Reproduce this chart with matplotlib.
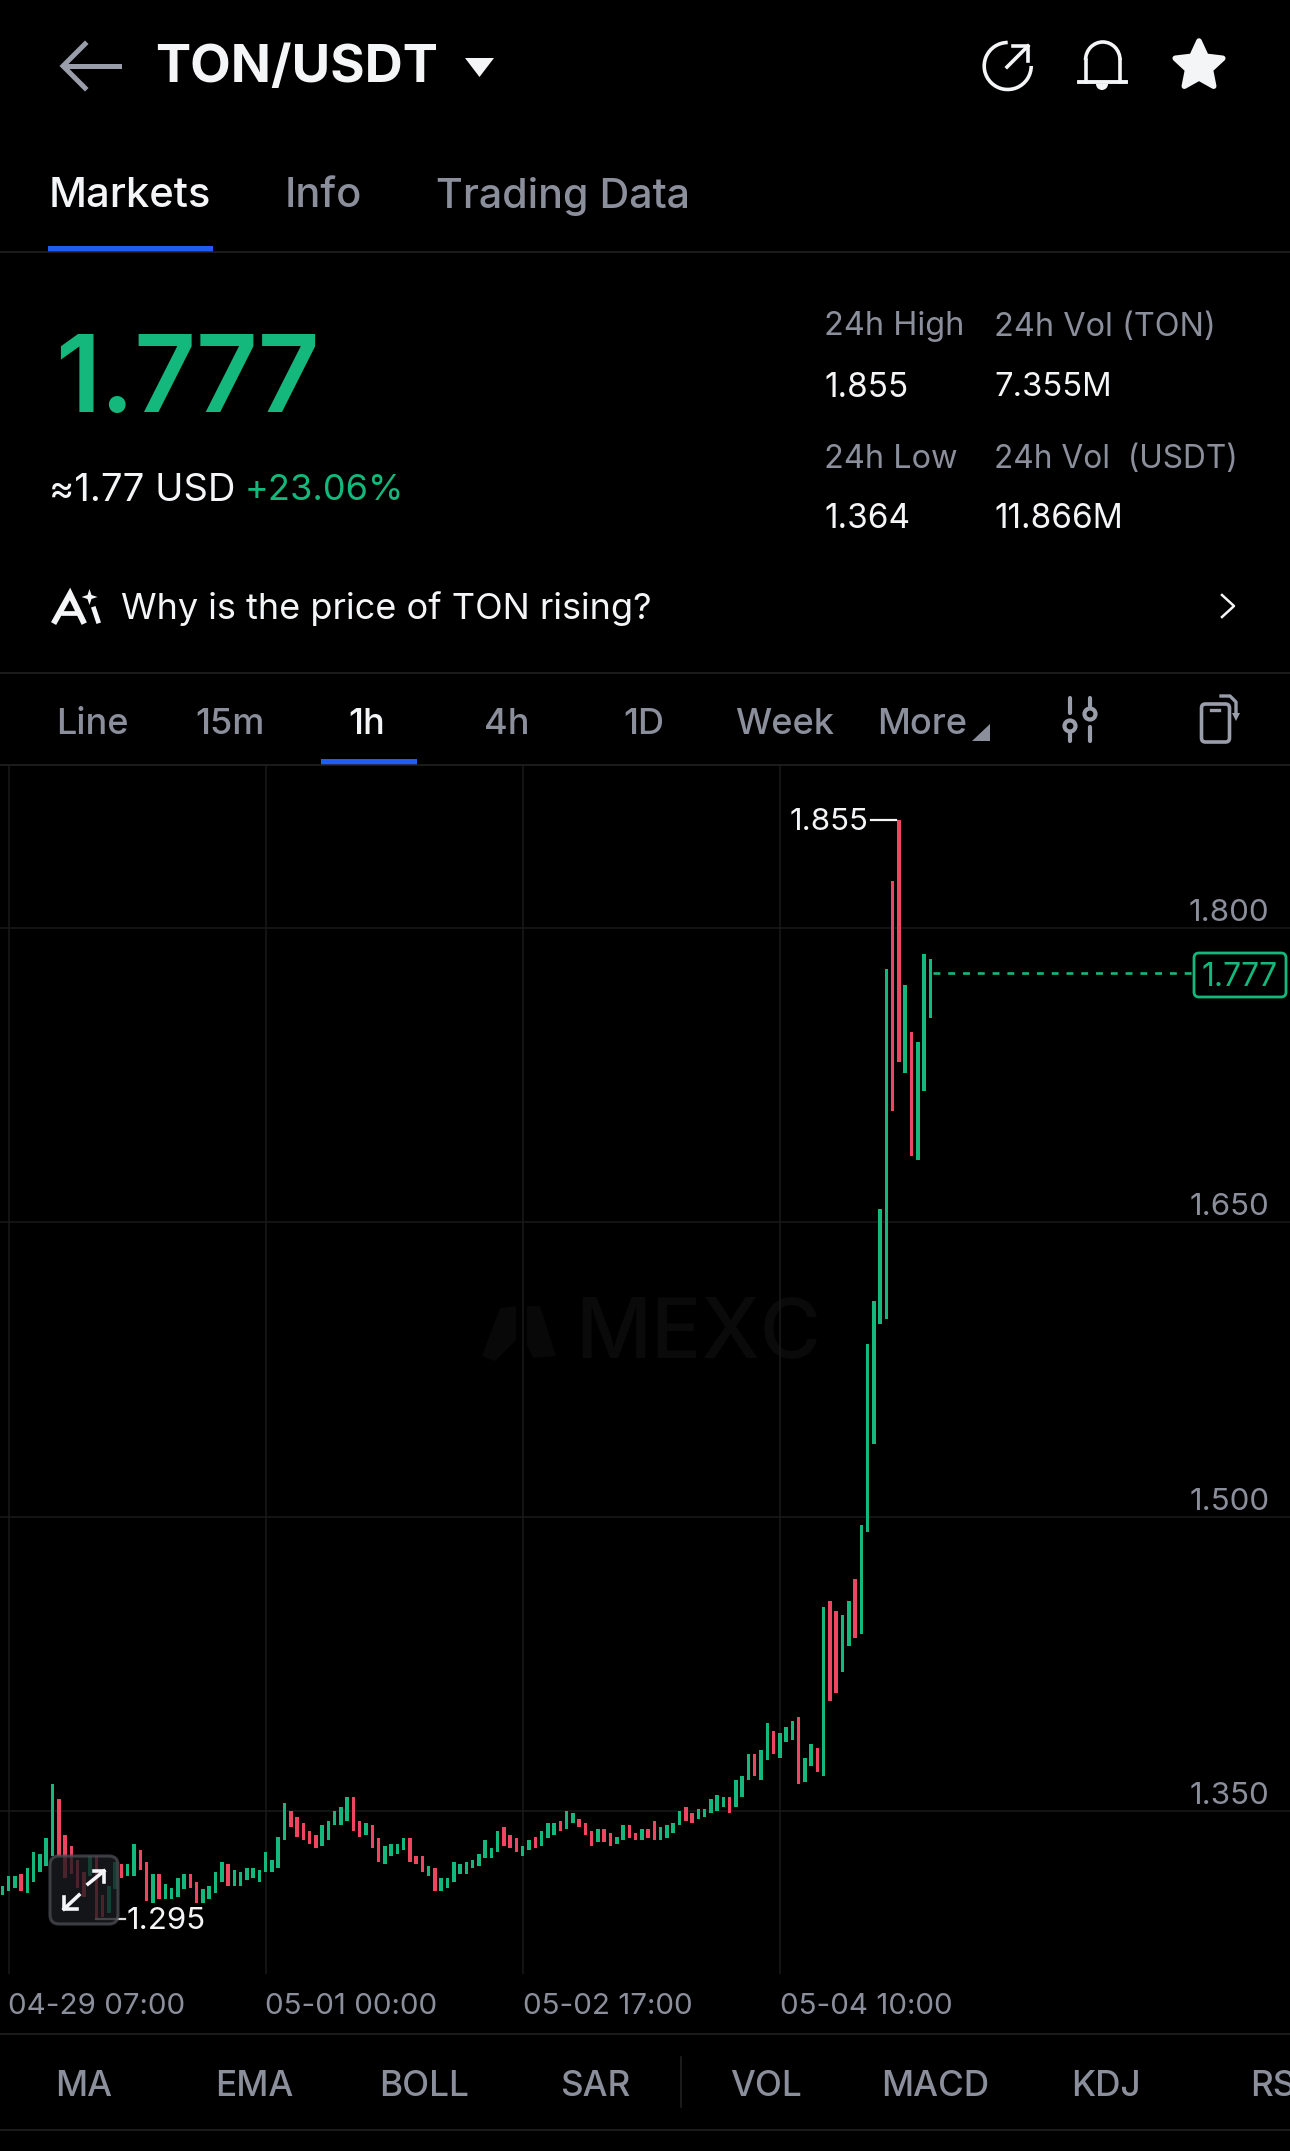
import matplotlib
matplotlib.use("Agg")
import matplotlib.pyplot as plt
import numpy as np
from matplotlib.patches import Arc, Circle, FancyBboxPatch, Polygon, Rectangle, Wedge

plt.rcParams["font.family"] = ["Inter", "DejaVu Sans"]

# one hourly candle per entry
highs = [
    1.312, 1.317, 1.317, 1.318, 1.321, 1.329, 1.328, 1.336, 1.364, 1.356,
    1.338, 1.332, 1.325, 1.319, 1.327, 1.327, 1.307, 1.312, 1.324, 1.323,
    1.323, 1.333, 1.330, 1.324, 1.318, 1.318, 1.313, 1.311, 1.316, 1.318,
    1.318, 1.314, 1.310, 1.312, 1.319, 1.324, 1.323, 1.320, 1.319, 1.321,
    1.321, 1.320, 1.329, 1.325, 1.337, 1.354, 1.350, 1.347, 1.344, 1.340,
    1.338, 1.343, 1.345, 1.350, 1.352, 1.357, 1.357, 1.345, 1.344, 1.343,
    1.336, 1.332, 1.333, 1.333, 1.336, 1.336, 1.327, 1.327, 1.322, 1.321,
    1.316, 1.316, 1.324, 1.323, 1.324, 1.325, 1.328, 1.335, 1.331, 1.340,
    1.342, 1.338, 1.336, 1.332, 1.335, 1.337, 1.340, 1.344, 1.344, 1.345,
    1.350, 1.349, 1.346, 1.344, 1.340, 1.341, 1.341, 1.339, 1.337, 1.343,
    1.343, 1.339, 1.341, 1.341, 1.345, 1.342, 1.343, 1.344, 1.350, 1.352,
    1.349, 1.351, 1.351, 1.356, 1.358, 1.357, 1.357, 1.366, 1.368, 1.379,
    1.379, 1.381, 1.395, 1.391, 1.390, 1.393, 1.396, 1.398, 1.377, 1.384,
    1.382, 1.454, 1.457, 1.452, 1.450, 1.457, 1.468, 1.496, 1.588, 1.610,
    1.657, 1.779, 1.824, 1.855, 1.771, 1.747, 1.742, 1.787, 1.784,
]
lows = [
    1.307, 1.309, 1.311, 1.309, 1.308, 1.314, 1.319, 1.322, 1.327, 1.327,
    1.316, 1.318, 1.311, 1.306, 1.317, 1.295, 1.296, 1.298, 1.310, 1.316,
    1.317, 1.317, 1.320, 1.304, 1.303, 1.305, 1.305, 1.305, 1.306, 1.310,
    1.311, 1.303, 1.303, 1.305, 1.308, 1.314, 1.312, 1.312, 1.312, 1.315,
    1.316, 1.314, 1.319, 1.319, 1.321, 1.335, 1.342, 1.337, 1.335, 1.333,
    1.331, 1.332, 1.335, 1.343, 1.343, 1.345, 1.340, 1.337, 1.338, 1.331,
    1.324, 1.323, 1.327, 1.328, 1.330, 1.324, 1.323, 1.319, 1.317, 1.309,
    1.309, 1.311, 1.314, 1.318, 1.318, 1.321, 1.322, 1.326, 1.326, 1.329,
    1.332, 1.331, 1.329, 1.327, 1.330, 1.331, 1.332, 1.336, 1.338, 1.340,
    1.341, 1.344, 1.342, 1.338, 1.332, 1.334, 1.334, 1.332, 1.333, 1.335,
    1.336, 1.335, 1.335, 1.336, 1.335, 1.335, 1.336, 1.339, 1.343, 1.345,
    1.344, 1.346, 1.347, 1.349, 1.350, 1.352, 1.349, 1.352, 1.357, 1.366,
    1.368, 1.366, 1.376, 1.379, 1.377, 1.385, 1.386, 1.364, 1.365, 1.373,
    1.370, 1.368, 1.406, 1.410, 1.421, 1.434, 1.438, 1.440, 1.492, 1.537,
    1.598, 1.601, 1.707, 1.732, 1.726, 1.684, 1.682, 1.717, 1.754,
]
is_up = [
    1, 1, 1, 0, 1, 1, 1, 1, 1, 0,
    0, 0, 0, 0, 1, 0, 0, 1, 1, 0,
    1, 1, 0, 0, 1, 0, 1, 1, 1, 1,
    0, 0, 1, 1, 1, 1, 0, 1, 1, 1,
    1, 1, 1, 1, 1, 1, 0, 0, 0, 0,
    0, 1, 1, 1, 1, 1, 0, 0, 1, 0,
    0, 1, 1, 1, 1, 0, 0, 0, 1, 0,
    1, 1, 1, 1, 1, 1, 1, 1, 1, 1,
    0, 0, 0, 1, 1, 0, 1, 1, 1, 0,
    1, 1, 0, 0, 0, 1, 0, 0, 1, 1,
    0, 0, 1, 0, 0, 1, 1, 1, 1, 0,
    0, 1, 1, 1, 1, 1, 0, 1, 1, 1,
    0, 1, 1, 0, 1, 1, 1, 0, 1, 1,
    0, 1, 0, 0, 1, 1, 0, 1, 1, 1,
    1, 1, 0, 0, 1, 0, 1, 1, 1,
]
price_ticks = [1.35, 1.5, 1.65, 1.8]
time_tick_pos = [1, 42, 83, 124]
time_tick_labels = ["04-29 07:00", "05-01 00:00", "05-02 17:00", "05-04 10:00"]
last_price = 1.777
peak_price = 1.855
low_price = 1.295

W, H = 1290, 2151
BG = "#000000"
GREEN = "#14b87c"
RED = "#ee4560"
GRAY = "#8b8f9c"
ICON = "#9a9eaa"
WHITE = "#f4f5f7"
BLUE = "#1f5ef0"
GRID = "#191919"
LINE = "#242424"

fig = plt.figure(figsize=(W / 100, H / 100), dpi=100, facecolor=BG)


def pixel_axes(z):
    a = fig.add_axes([0, 0, 1, 1], zorder=z)
    a.set_xlim(0, W)
    a.set_ylim(H, 0)
    a.axis("off")
    a.patch.set_alpha(0)
    return a


back = pixel_axes(0)
ui = pixel_axes(2)

# chart area, pixel rows 765..1974, 1962 px per 1.0 of price, 6.27 px per candle
top, bottom = 765, 1974
ax = fig.add_axes([0, (H - bottom) / H, 1, (bottom - top) / H], zorder=1)
ax.patch.set_alpha(0)
ax.set_ylim(1.35 - (bottom - 1811) / 1962, 1.35 + (1811 - top) / 1962)
ax.set_xlim(-2.33 / 6.27, (W - 2.33) / 6.27)
for s in ax.spines.values():
    s.set_visible(False)
ax.set_xticks(time_tick_pos)
ax.set_yticks(price_ticks)
ax.tick_params(length=0, labelbottom=False, labelleft=False)
ax.grid(True, color=GRID, lw=1.1)
ax.set_axisbelow(True)

x = np.arange(len(highs))
highs_a = np.array(highs)
lows_a = np.array(lows)
colors = [GREEN if u else RED for u in is_up]
ax.bar(x, highs_a - lows_a, bottom=lows_a, width=0.56, color=colors, linewidth=0)

# last price guide and extreme labels
ax.plot([x[-1] + 0.4, 1192 / 6.27], [last_price, last_price], color=GREEN, lw=1.9,
        dashes=(2.6, 3.0))
ax.plot([869 / 6.27, x[143] - 0.4], [peak_price, peak_price], color=WHITE, lw=1.6)
ax.plot([x[15], 123 / 6.27], [low_price, low_price], color="#d8d8d8", lw=1.6)
ax.text(866 / 6.27, peak_price - 2 / 1962, "1.855", color=WHITE, fontsize=22.5, ha="right", va="center")
ax.text(124 / 6.27, low_price - 2 / 1962, "1.295", color=WHITE, fontsize=22.5, ha="left", va="center")

for p in price_ticks:
    ax.text(1267 / 6.27, p + 15 / 1962, f"{p:.3f}", color=GRAY, fontsize=22.5, ha="right", va="center")

# watermark
back.add_patch(Polygon([(482, 1356), (500, 1308), (516, 1306), (516, 1340), (495, 1361)],
                       closed=True, color="#080808", lw=0))
back.add_patch(Polygon([(527, 1306), (540, 1306), (556, 1356), (533, 1358), (527, 1345)],
                       closed=True, color="#080808", lw=0))
back.text(575, 1336, "MEXC", color="#0a0a0a", fontsize=60, fontweight="medium", ha="left", va="center")

# price tag
ui.add_patch(FancyBboxPatch((1194, 953), 92, 44, boxstyle="round,pad=0,rounding_size=5",
                            fc=BG, ec=GREEN, lw=2))
ui.text(1240, 977, "1.777", color=GREEN, fontsize=23, ha="center", va="center")

# fullscreen button over the candles
ui.add_patch(FancyBboxPatch((50, 1856), 68, 68, boxstyle="round,pad=0,rounding_size=9",
                            fc="#1a1b1f", ec="#4b4c52", lw=2.2, alpha=0.78))
ui.plot([88, 104], [1884, 1871], color=WHITE, lw=2.6)
ui.plot([94, 104, 104], [1871, 1871, 1882], color=WHITE, lw=2.6)
ui.plot([79, 64], [1895, 1909], color=WHITE, lw=2.6)
ui.plot([64, 64, 77], [1897, 1909, 1909], color=WHITE, lw=2.6)

# date labels under the chart
for pos_px, lab in zip([8, 265, 523, 780], time_tick_labels):
    ui.text(pos_px, 2006, lab, color=GRAY, fontsize=21.3, ha="left", va="center")

# separators
for y_px in [252, 672.5, 765, 2034, 2130]:
    ui.plot([0, W], [y_px, y_px], color=LINE, lw=1.1)
ui.plot([681, 681], [2057, 2107], color=LINE, lw=1.1)

# header
ui.plot([119, 66], [66, 66], color=ICON, lw=3.6)
ui.plot([85, 63, 85], [44, 66, 88], color=ICON, lw=3.6, solid_joinstyle="miter")
ui.text(155, 69, "TON/USDT", color=WHITE, fontsize=38, fontweight="bold", ha="left", va="center")
ui.add_patch(Polygon([(465, 58), (494, 58), (479.5, 77)], closed=True, color=WHITE, lw=0))

# share icon
ui.add_patch(Arc((1007.7, 66), 47, 47, theta1=0, theta2=270, color=WHITE, lw=2.6))
ui.plot([1007, 1028], [67, 46], color=WHITE, lw=2.6)
ui.plot([1013, 1028, 1028], [46, 46, 61], color=WHITE, lw=2.6)
# bell icon
ui.plot([1085.5, 1085.5], [82, 60], color=WHITE, lw=2.6)
ui.plot([1120, 1120], [82, 60], color=WHITE, lw=2.6)
ui.add_patch(Arc((1102.8, 60), 34.5, 36, theta1=180, theta2=360, color=WHITE, lw=2.6))
ui.plot([1079, 1126], [82, 82], color=WHITE, lw=2.8)
ui.add_patch(Wedge((1102, 84), 6, 0, 180, color=WHITE, lw=0))
ui.set_ylim(H, 0)
# star icon
ang = np.deg2rad(np.arange(0, 360, 36) - 90)
rad = np.array([25, 12] * 5)
ui.add_patch(Polygon(np.c_[1199 + rad * np.cos(ang), 66 + rad * np.sin(ang)], closed=True,
                     fc=WHITE, ec=WHITE, lw=4, joinstyle="round"))

# tabs
ui.text(49, 196, "Markets", color=WHITE, fontsize=30, fontweight="medium", ha="left", va="center")
ui.text(285, 196, "Info", color=GRAY, fontsize=30, fontweight="medium", ha="left", va="center")
ui.text(436, 196, "Trading Data", color=GRAY, fontsize=29.7, fontweight="medium", ha="left", va="center")
ui.add_patch(Rectangle((48, 246), 165, 6, color=BLUE, lw=0))

# price block
ui.text(55, 384, "1.777", color=GREEN, fontsize=77, fontweight="semibold", ha="left", va="center")
ui.text(49, 491, "≈1.77 USD", color=WHITE, fontsize=27.5, ha="left", va="center")
ui.text(245, 491, "+23.06%", color=GREEN, fontsize=26, ha="left", va="center")

for tx, ty, lab, col, fs in [
    (824, 327, "24h High", GRAY, 23.4), (994, 327, "24h Vol (TON)", GRAY, 23.4),
    (824, 388, "1.855", WHITE, 24), (994, 388, "7.355M", WHITE, 23.6),
    (824, 459, "24h Low", GRAY, 23.4), (994, 459, "24h Vol  (USDT)", GRAY, 22.8),
    (824, 519, "1.364", WHITE, 24), (994, 519, "11.866M", WHITE, 24),
]:
    ui.text(tx, ty, lab, color=col, fontsize=fs, ha="left", va="center")

# hint row
ui.text(121, 609, "Why is the price of TON rising?", color=WHITE, fontsize=26, ha="left", va="center")
ui.plot([55, 70, 83], [621, 594, 621], color=WHITE, lw=4.2, solid_joinstyle="miter")
ui.plot([63, 78], [613, 613], color=WHITE, lw=3.4)
ui.add_patch(Polygon([(89.5, 589), (91.5, 595), (97.5, 597), (91.5, 599), (89.5, 605), (87.5, 599), (81.5, 597), (87.5, 595)],
                     closed=True, color=WHITE, lw=0))
ui.plot([94, 98], [609, 621], color=WHITE, lw=3.4)
ui.plot([1222, 1234, 1222], [595, 606, 617], color=WHITE, lw=1.8)

# period selector
for tx, lab, col in [(56, "Line", GRAY), (195, "15m", GRAY), (348, "1h", WHITE), (484, "4h", GRAY),
                     (623, "1D", GRAY), (735, "Week", GRAY), (877, "More", GRAY)]:
    ui.text(tx, 724, lab, color=col, fontsize=26, fontweight="medium", ha="left", va="center")
ui.add_patch(Polygon([(972, 741), (990, 741), (990, 724)], closed=True, color=GRAY, lw=0))
ui.add_patch(Rectangle((321, 759), 96, 6, color=BLUE, lw=0))

# sliders icon
ui.plot([1070, 1070], [698, 713], color=ICON, lw=3, solid_capstyle="round")
ui.plot([1070, 1070], [733, 741], color=ICON, lw=3, solid_capstyle="round")
ui.plot([1090, 1090], [698, 706], color=ICON, lw=3, solid_capstyle="round")
ui.plot([1090, 1090], [727, 741], color=ICON, lw=3, solid_capstyle="round")
ui.add_patch(Circle((1070, 726), 5.5, fc=BG, ec=ICON, lw=3))
ui.add_patch(Circle((1090, 714), 5.5, fc=BG, ec=ICON, lw=3))

# rotate icon
ui.add_patch(FancyBboxPatch((1201.5, 704), 28, 38, boxstyle="round,pad=0,rounding_size=4", fc=BG, ec=ICON, lw=2.6))
ui.plot([1211, 1219], [710, 710], color=ICON, lw=2.4)
ui.plot([1221, 1230, 1236, 1236], [696, 696, 702, 714], color=ICON, lw=2.4)
ui.add_patch(Polygon([(1232, 713), (1240, 713), (1236, 721)], closed=True, color=ICON, lw=0))

# indicator row
for tx, lab in zip([55, 215, 379, 560, 730, 881, 1071, 1250],
                   ["MA", "EMA", "BOLL", "SAR", "VOL", "MACD", "KDJ", "RSI"]):
    ui.text(tx, 2086, lab, color=GRAY, fontsize=25.3, fontweight="medium", ha="left", va="center")

fig.savefig("out.png", dpi=100, facecolor=BG)
